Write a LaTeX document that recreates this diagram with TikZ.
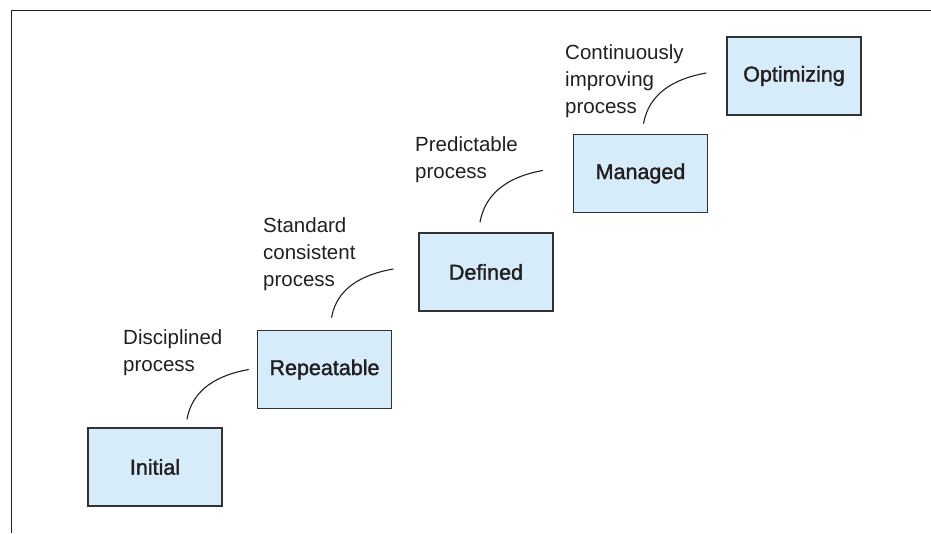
\documentclass[tikz,border=0pt]{standalone}
\usepackage{fontspec}
\setmainfont{Liberation Sans}
\newfontfamily\medfont[FakeBold=1.6]{Liberation Sans}
\usepackage{tikz}
\usetikzlibrary{positioning}
\definecolor{boxblue}{RGB}{215,236,250}
\definecolor{boxgray}{RGB}{50,50,50}
\definecolor{inkdark}{RGB}{35,31,32}

\begin{document}
\begin{tikzpicture}[
 x=1pt,y=1pt,
 every node/.style={font=\fontsize{20.5}{27}\selectfont,text=inkdark},
 box/.style={draw=boxgray,line width=1.5pt,fill=boxblue,minimum width=134pt,minimum height=78pt,inner sep=0pt,font=\medfont\fontsize{21.5}{27}\selectfont},
 note/.style={anchor=north west,align=left,inner sep=0pt},
 link/.style={line width=1.1pt,inkdark}
]
\useasboundingbox (0,0) rectangle (931,533);
\draw[line width=1.7pt,inkdark] (931,522.5) -- (11.5,522.5) -- (11.5,0);
% maturity levels
\node[box] (l1) at (155,66) {Initial};
\node[box,above right=18pt and 34pt of l1] (l2) {Repeatable};
\node[box,above right=18pt and 26pt of l2] (l3) {Defined};
\node[box,above right=19pt and 19pt of l3] (l4) {Managed};
\node[box,above right=18pt and 18pt of l4] (l5) {Optimizing};
% process notes
\node[note] (t1) at (123,204) {Disciplined\\process};
\node[note] (t2) at (263,316) {Standard\\consistent\\process};
\node[note] (t3) at (415,397) {Predictable\\process};
\node[note] (t4) at (565,489) {Continuously\\improving\\process};
\coordinate (s1) at ([shift={(32pt,8pt)}]l1.north);
\coordinate (e1) at ([xshift=-8pt]l2.west);
\coordinate (s2) at ([shift={(7pt,12pt)}]l2.north);
\coordinate (e2) at ([shift={(-25pt,3pt)}]l3.west);
\coordinate (s3) at ([shift={(-6pt,10pt)}]l3.north);
\coordinate (e3) at ([shift={(-30pt,3pt)}]l4.west);
\coordinate (s4) at ([shift={(3pt,10pt)}]l4.north);
\coordinate (e4) at ([shift={(-20pt,3pt)}]l5.west);
\draw[link] (s1) to[out=80,in=190] (e1);\draw[link] (s2) to[out=80,in=190] (e2);
\draw[link] (s3) to[out=80,in=190] (e3);\draw[link] (s4) to[out=80,in=190] (e4);
\end{tikzpicture}
\end{document}
